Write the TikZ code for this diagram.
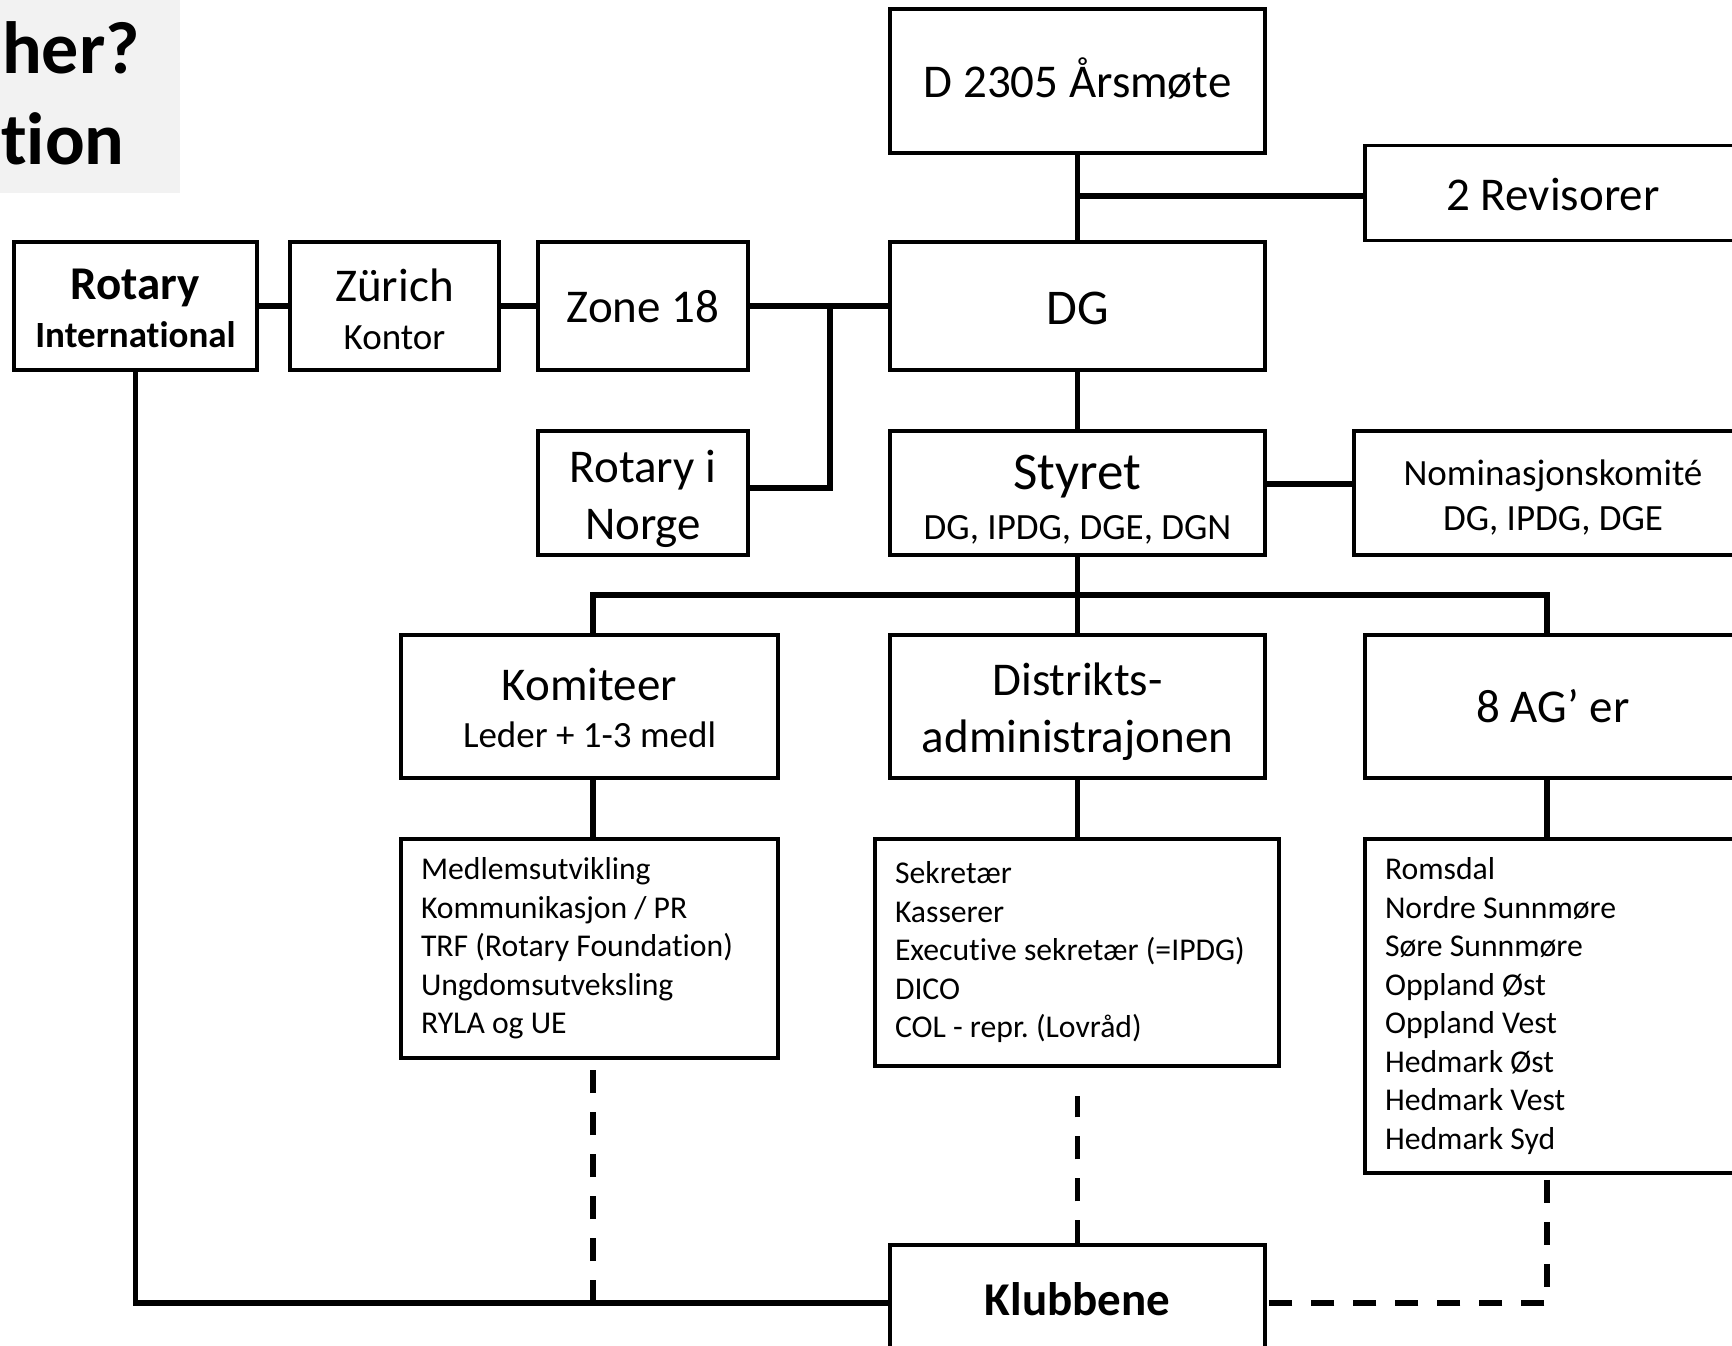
\documentclass[tikz,border=0pt]{standalone}
\usepackage{fontspec}
\setmainfont{Carlito}[Ligatures=NoCommon]
\usetikzlibrary{calc}
\newcommand{\bigtxt}{\fontsize{47}{57.3}\selectfont}
\newcommand{\dgtxt}{\fontsize{50}{61}\selectfont}
\newcommand{\smalltxt}{\fontsize{37}{45}\selectfont}
\newcommand{\listtxt}{\fontsize{31.7}{38.5}\selectfont\frenchspacing}
\newcommand{\titletxt}{\fontsize{74}{90}\selectfont\bfseries}
\newcommand{\padtop}[1]{\rule{0pt}{#1}}
\newcommand{\padbot}[1]{\rule[-#1]{0pt}{0pt}}
\tikzset{
	box/.style={draw, line width=3.5pt, inner sep=0pt, align=center, font=\bigtxt},
	listbox/.style={draw, line width=3.5pt, inner xsep=20pt, inner ysep=0pt, align=flush left, font=\listtxt},
	link/.style={line width=5.5pt},
	dashlink/.style={line width=5.5pt, dash pattern=on 23pt off 19pt}
}

\begin{document}
\begin{tikzpicture}[x=1pt, y=-1pt]
	\useasboundingbox (0,0) rectangle (1732,1346);
	\clip (0,0) rectangle (1732,1346);
	% title left over from the slide
	\fill[black!5] (0,0) rectangle (180,193);
	\node[anchor=base east, inner sep=0pt, font=\titletxt] (title1) at (140,74) {her?};
	\node[anchor=base west, inner sep=0pt, font=\titletxt] (title2) at (1,164) {tion};

	\node[box, minimum width=243pt, minimum height=128pt, font=\smalltxt] (rotint) at (135.5,306) {{\bigtxt\bfseries\padtop{36pt}Rotary}\\[3pt]\bfseries International};
	\node[box, minimum width=209pt, minimum height=128pt, font=\smalltxt] (zurich) at (394.5,306) {{\bigtxt\padtop{40pt}Zürich}\\[3pt]Kontor};
	\node[box, minimum width=210pt, minimum height=128pt] (zone) at (643,306) {\padtop{34pt}Zone 18};
	\node[box, minimum width=375pt, minimum height=128pt, font=\dgtxt] (dg) at (1077.5,306) {\padtop{38pt}DG};
	\node[box, minimum width=375pt, minimum height=144pt] (arsmote) at (1077.5,81) {D 2305 Årsmøte\padbot{7pt}};
	\node[box, minimum width=376pt, minimum height=95pt] (revis) at (1553,193) {\padtop{36pt}2 Revisorer};

	\node[box, minimum width=210pt, minimum height=124pt] (norge) at (643,493) {\padtop{44pt}Rotary i\\Norge};
	\node[box, minimum width=375pt, minimum height=124pt, font=\smalltxt] (styret) at (1077.5,493) {{\fontsize{53}{64}\selectfont\padtop{48.5pt}Styret}\\[5pt]DG, IPDG, DGE, DGN};
	\node[box, minimum width=398pt, minimum height=124pt, font=\smalltxt] (nomin) at (1553,493) {\padtop{35pt}Nominasjonskomité\\DG, IPDG, DGE};

	\node[box, minimum width=377pt, minimum height=143pt, font=\smalltxt] (komit) at (589.5,706.5) {{\bigtxt\padtop{36pt}Komiteer}\\[2pt]Leder + 1-3 medl};
	\node[box, minimum width=375pt, minimum height=143pt] (distr) at (1077.5,706.5) {\padtop{43.5pt}Distrikts-\\administrajonen};
	\node[box, minimum width=376pt, minimum height=143pt] (ag) at (1553,706.5) {8 AG’ er};

	\node[listbox, text width=337pt, minimum height=219pt] (komlist) at (589.5,948.5) {Medlemsutvikling\\Kommunikasjon / PR\\TRF (Rotary Foundation)\\Ungdomsutveksling\\RYLA og UE};
	\node[listbox, text width=364pt, minimum height=227pt] (distlist) at (1077,952.5) {Sekretær\\Kasserer\\Executive sekretær (=IPDG)\\DICO\\COL - repr. (Lovråd)\padbot{4pt}};
	\node[listbox, text width=336pt, minimum height=334pt] (aglist) at (1553,1006) {Romsdal\\Nordre Sunnmøre\\Søre Sunnmøre\\Oppland Øst\\Oppland Vest\\Hedmark Øst\\Hedmark Vest\\Hedmark Syd};

	\node[box, minimum width=375pt, minimum height=116pt] (klubb) at (1077.5,1303) {\bfseries Klubbene\padbot{9pt}};

	\coordinate (zonejoin) at ($(zone.east)!0.58!(dg.west)$);
	\coordinate (bus) at ($(styret.south)+(0,38)$);

	\draw[link] (arsmote) -- (dg);
	\draw[link] ([yshift=-3pt]revis.west) -- ([yshift=-3pt]revis.west -| dg.north);
	\draw[link] (rotint) -- (zurich);
	\draw[link] (zurich) -- (zone);
	\draw[link] (zone) -- (dg);
	\draw[link] ([yshift=5pt]norge.east) -| (zonejoin);
	\draw[link] (dg) -- (styret);
	\draw[link] ([yshift=9pt]styret.east) -- ([yshift=9pt]styret.east -| nomin.west);
	\draw[link] (styret) -- (distr);
	\draw[link] ([xshift=3.5pt]komit.north) |- ([xshift=-6pt]ag.north |- bus) -- ([xshift=-6pt]ag.north);
	\draw[link] ([xshift=3.5pt]komit.south) -- ([xshift=3.5pt]komlist.north);
	\draw[link] (distr.south) -- (distr.south |- distlist.north);
	\draw[link] ([xshift=-6pt]ag.south) -- ([xshift=-6pt]aglist.north);
	\draw[link] (rotint.south) |- (klubb.west);

	\draw[dashlink] ([xshift=3.5pt]komlist.south |- klubb.west) -- ([xshift=3.5pt]komlist.south);
	\draw[dashlink] (klubb.north) -- ([yshift=-28pt]distlist.south -| klubb.north);
	\draw[dashlink] ([xshift=-6pt, yshift=-5pt]aglist.south) |- (klubb.east);
\end{tikzpicture}
\end{document}
